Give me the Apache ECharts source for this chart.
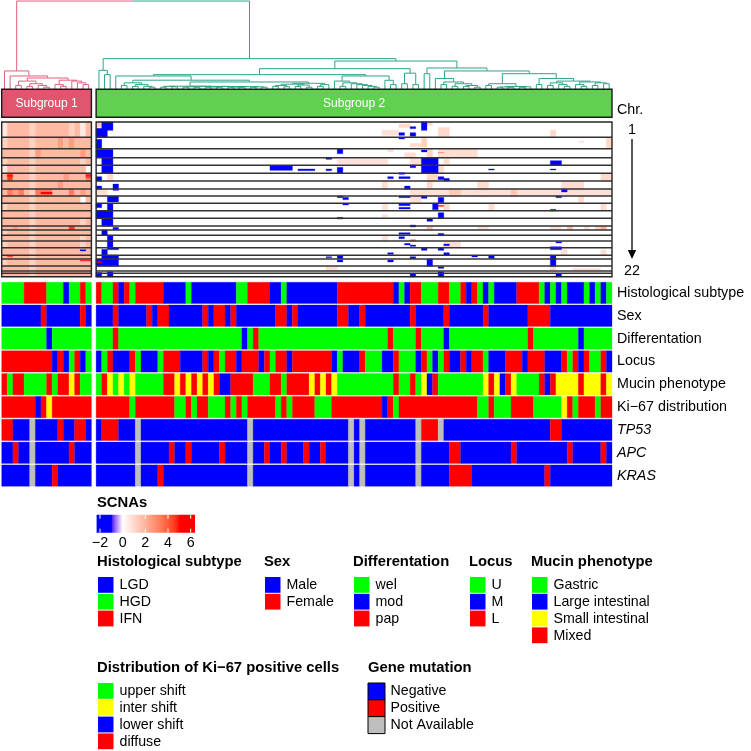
<!DOCTYPE html>
<html>
<head>
<meta charset="utf-8">
<script src="https://cdn.jsdelivr.net/npm/echarts@6.0.0/dist/echarts.min.js"></script>
<style>
html,body{margin:0;padding:0;background:#ffffff;}
#chart{width:751px;height:751px;}
</style>
</head>
<body>
<div id="chart"></div>
<script>
// ================= DATA =================
const subgroupNames = ['Subgroup 1', 'Subgroup 2'];
const subgroupSizes = [16, 92];
const subgroupColors = ['#e0566f', '#5fd14f'];
const branchColors = ['#e2607e', '#2ca488'];

// dendrogram (leaf = sample index, number after ")" = merge height, root = 100)
const treeSG1 = "(0,(1,(((2,3)4,((4,5)3,(6,(7,8)2)4)6)9,((9,(10,11)3)5,(12,(13,(14,15)5)7)9)10)12.5)14.8)20.5";
const treeL = "(16,(17,18)16.3)21.2";
const treeA = "((20,21)4,((22,23)3,(24,(25,26)2)3)5)7";
const treeB1 = "(((27,28)2,(29,30)2.5)3,(((31,32)2,(33,34)2)2.5,(((35,36)2,(37,38)2)2.3,(((39,40)2,(41,42)2)2.2,((43,44)2,(45,46)2)2.4)2.6)2.8)3)3.2";
const treeB2 = "((((47,48)3,(49,50)2.5)4,((51,52)3,(53,54)2)4.5)5.5,((55,56)3,57)5)6.5";
const treeN735 = "(58,((59,60)3,(61,(62,(63,(64,(65,66)2)3)4)5)6)7)9";
const treeN880 = "(67,(68,69)5)9.9";
const treeR1b = "((70,71)6,(72,73)5)18";
const treeR2a = "(74,75)17.4";
const treeR2bL = "(76,((77,78)5,((79,80)3,((81,82)3,(83,84)2)4)6)8)12";
const treeR2bR1 = "((85,86)4,(((87,88)2,(89,90)2)2.3,((91,92)2,93)2.5)2.8)6";
const treeR2bR2 = "((94,95)5,(((96,97)4,(98,(99,100)3)5)7,((101,(102,103)3)5,((104,105)4,(106,107)6)7)8)9)12";

const chromosomes = ['1','2','3','4','5','6','7','8','9','10','11','12','13','14','15','16','17','18','19','20','21','22'];
const chromosomeBins = [46,34,27,23,24,23,24,21,22,22,23,23,12,16,17,20,23,11,21,15,7,10];

// subgroup 1 copy-number level per chromosome (one character per sample)
const subgroup1Scna = [
  "1333323333332313","2333323333434333","3333324333333343","2333323333333323",
  "1333323333333330","3633323333343335","3333323333433333","3545325553335343",
  "3333323333333303","2333323333333333","3333323333333333","3333323333333323",
  "3343323333336333","2333323333333333","3333323333333323","2333323333333323",
  "3333323333333333","3433323333333333","2333323333333333","3333323333333333",
  "3333323333333333","3333323333333333"
];
const scnaCodeValues = {'0':0,'1':0.6,'2':1.2,'3':1.8,'4':2.5,'5':3.3,'6':4.5,'b':-2};
// focal segments in subgroup 1: [firstSample, lastSample, binFrom, binTo, value]
const subgroup1Spots = [
  [14,14,383,387,-2],[1,1,160,163,5],[15,15,158,161,5],[15,15,164,166,5],
  [12,12,316,322,4.5],[14,15,415,417,5],[1,1,400,403,5],[7,8,210,216,5]
];
// segments in subgroup 2 (sample index within subgroup 2)
const subgroup2Scna = [
  [0,0,0,14,1.2],[1,2,0,24,-2],[0,1,19,44,-2],[0,0,52,79,-2],[0,2,82,104,-2],[1,2,107,129,-2],
  [1,2,130,152,-2],[0,0,164,176,-2],[2,2,156,174,1.0],[0,0,192,201,-2],[3,3,186,204,-2],
  [0,1,202,219,0.8],[2,3,222,239,-2],[0,0,244,256,-2],[2,2,244,264,-2],[0,2,266,289,-2],
  [1,2,289,312,-2],[3,3,316,322,-2],[1,1,324,339,-2],[2,2,340,357,-2],[2,2,357,377,-2],
  [2,3,377,382,-2],[1,1,382,400,-2],[1,3,400,411,-2],[0,3,411,432,-2],[0,0,418,421,5],
  [0,0,451,464,-2],[2,2,449,464,-2],
  [54,55,6,16,1.0],[56,56,14,19,-2],[58,58,0,24,-2],[59,59,2,9,1.0],[54,54,32,39,-2],
  [56,56,32,42,-2],[51,53,24,39,0.8],[61,62,16,44,1.0],[58,58,46,74,1.2],[54,54,46,50,-2],
  [56,57,64,74,0.9],[43,43,80,94,-2],[52,52,82,89,0.8],[58,58,84,89,-2],[59,59,80,104,1.1],
  [61,67,82,104,0.9],[61,61,91,92,3],[55,56,92,104,0.9],[41,41,107,111,-2],[43,51,112,124,0.8],
  [58,60,107,129,-2],[62,62,112,124,1.0],[56,57,107,129,0.8],[31,34,132,144,-2],[36,38,141,145,-2],
  [41,41,141,145,-2],[43,43,136,152,-2],[58,60,132,152,-2],[56,56,129,136,-2],[59,61,129,154,1.0],
  [54,54,152,156,-2],[52,52,164,169,-2],[54,55,164,169,-2],[59,60,154,177,1.0],[61,61,164,172,-2],
  [62,62,169,176,-2],[51,51,177,201,0.8],[55,55,192,201,-2],[59,59,177,201,1.0],[56,69,201,222,0.8],
  [63,64,201,222,1.4],[43,43,222,226,-2],[44,44,226,232,-2],[54,55,222,226,-2],[58,58,222,228,-2],
  [61,61,226,241,-2],[56,57,222,244,0.8],[44,44,244,248,-2],[51,51,244,264,0.8],[54,55,246,250,-2],
  [54,55,256,260,-2],[60,60,244,262,-2],[61,61,250,252,5],[62,62,244,264,1.0],[61,61,272,289,-2],
  [51,51,278,284,0.8],[43,43,286,290,-2],[59,59,289,297,-2],[56,56,309,314,-2],[59,59,314,324,1.6],
  [54,55,332,336,-2],[61,61,334,340,-2],[54,54,344,349,-2],[56,56,353,355,4],[51,51,340,357,0.8],
  [55,55,364,368,-2],[56,56,369,372,-2],[62,64,359,374,0.9],[62,62,366,370,-2],[58,58,377,384,-2],
  [61,61,377,384,-2],[62,62,392,399,-2],[41,41,404,406,-2],[43,43,400,409,-2],[52,52,392,396,-2],
  [56,56,404,409,-2],[67,67,400,404,-2],[43,43,414,419,-2],[52,52,414,419,-2],[59,59,411,432,-2],
  [61,61,434,438,-2],[41,42,434,444,0.8],[56,56,454,464,-2],[61,61,449,464,-2],
  [81,81,24,44,1.0],[86,86,58,61,0.8],[91,91,46,79,1.0],[81,82,116,128,-2],[70,70,141,143,-2],
  [81,81,141,143,-2],[90,91,154,177,1.0],[68,69,177,201,0.9],[83,86,177,201,0.9],[68,91,201,222,0.8],
  [74,74,201,222,1.5],[83,83,202,209,-2],[82,82,222,226,-2],[86,86,222,240,0.9],[70,70,244,264,0.9],
  [90,90,244,264,0.9],[81,81,262,266,-2],[68,69,312,324,0.8],[81,82,312,324,0.8],[84,84,312,324,1.6],
  [87,87,312,324,0.8],[89,89,312,324,1.2],[90,90,312,324,2.0],[82,82,359,362,-2],[81,82,374,382,-2],
  [83,83,382,400,0.9],[90,90,384,400,0.9],[70,70,400,408,-2],[81,81,400,432,-2],[81,81,434,447,0.9],
  [85,89,439,444,0.8],[82,82,454,464,-2]
];

const scnaTicks = [-2, 0, 2, 4, 6];
const scnaLegendRange = [-2.3, 6.38];
const scnaColorStops = [[-2,'#0000ff'],[-1,'#0000ff'],[0,'#ffffff'],[5,'#ff0000'],[6,'#ff0000']];

const trackNames = ['Histological subtype','Sex','Differentation','Locus','Mucin phenotype','Ki\u221267 distribution','TP53','APC','KRAS'];
const italicTracks = ['TP53','APC','KRAS'];
// run-length codes per track: [subgroup 1, subgroup 2]
const histologicalRuns = ["G4 R4 G3 B1 G2 R1 G1", "R1 G2 R1 B1 R1 G1 R5 B4 G1 B8 G2 R4 B2 G1 B9 R10 B1 G1 B1 R2 G3 R2 G2 R1 B1 R1 G1 B1 G1 B4 R4 G1 B1 G1 B1 G1 B3 G1 B1 G1 B1 G1"];
const sexRuns = ["B7 R1 B6 R1 B1", "B3 R1 B5 R1 B1 R2 B6 R1 B1 R2 B1 R1 B7 R2 B1 R1 B7 R2 B2 R1 B8 R1 B5 R1 B6 R1 B7 R4 B11"];
const differentationRuns = ["G8 B1 G7", "G3 R1 G22 B1 G1 R1 G23 R1 G4 R1 G4 B1 G14 R1 G8 B1 G5"];
const locusRuns = ["R9 B1 R1 B1 G1 R1 B1 G1", "B1 G1 R1 B3 R1 G1 B3 G1 R3 B4 R1 B1 R1 G1 R2 B1 R3 B1 R1 G1 R2 B1 R7 B1 G1 B3 R1 G3 B2 R1 G3 B1 R1 G1 B1 G1 R1 B2 R1 B1 R2 G1 B3 R3 B1 R3 B3 R1 G1 R1 B1 R1 G2 R1 B1"];
const mucinRuns = ["R1 G1 R2 G4 R1 G1 R2 Y1 R1 G2", "G1 R1 Y1 G1 Y1 G1 Y1 G5 R2 Y1 R1 Y1 R1 Y1 R1 Y1 R1 B2 R4 G3 R2 G1 R4 Y1 R1 Y1 R1 Y1 G10 R1 G2 R1 G1 Y1 B1 R1 G8 Y1 R1 Y1 B1 R1 Y1 G4 R1 B1 R1 Y4 R1 Y3 R1 Y1"];
const ki67Runs = ["R6 B1 R1 Y1 R7", "R6 G1 R7 G2 R1 G1 R2 G3 R1 G1 R1 G1 R5 G1 R1 G1 R4 G3 R9 B1 R1 G1 R14 G2 R1 G3 R4 G5 Y1 R1 G1 R3 G1 R2"];
const tp53Runs = ["R2 B3 N1 B4 R1 B2 R2 B1", "B1 R3 B3 N1 B19 N1 B17 N1 B1 N1 B9 N1 R3 N1 B19 R2 B9"];
const apcRuns = ["B2 R1 B2 N1 B6 R1 B3", "B7 N1 B5 R1 B2 R1 B5 R1 B4 N1 B2 R1 B2 R1 B3 R1 B2 R1 B4 N1 B1 N1 B9 N1 B5 R2 B9 R1 B9 R1 B5 R1 B1"];
const krasRuns = ["B5 N1 B3 R1 B6", "B7 N1 B3 R1 B15 N1 B17 N1 B1 N1 B9 N1 B5 R4 B13 R1 B11"];
const trackRuns = [histologicalRuns, sexRuns, differentationRuns, locusRuns, mucinRuns, ki67Runs, tp53Runs, apcRuns, krasRuns];
const codeColors = {B:'#0000ff', G:'#00ff00', R:'#ff0000', Y:'#ffff00', N:'#bebebe'};

const legendTitles = ['Histological subtype','Sex','Differentation','Locus','Mucin phenotype','Distribution of Ki\u221267 positive cells','Gene mutation'];
const legendLabels = [
  ['LGD','HGD','IFN'], ['Male','Female'], ['wel','mod','pap'], ['U','M','L'],
  ['Gastric','Large intestinal','Small intestinal','Mixed'],
  ['upper shift','inter shift','lower shift','diffuse'],
  ['Negative','Positive','Not Available']
];
const legendColors = [
  ['#0000ff','#00ff00','#ff0000'], ['#0000ff','#ff0000'], ['#00ff00','#0000ff','#ff0000'], ['#00ff00','#0000ff','#ff0000'],
  ['#00ff00','#0000ff','#ffff00','#ff0000'], ['#00ff00','#ffff00','#0000ff','#ff0000'], ['#0000ff','#ff0000','#bebebe']
];

// ================= LAYOUT =================
const FONT = 'Liberation Sans, Arial, Helvetica, sans-serif';
const GAP = 0.84;
const NS = subgroupSizes[0] + subgroupSizes[1];
const XMAX = NS + GAP;
const GRID_LEFT = 1.7, GRID_W = 610.3;
const legendAnchors = [[97,562],[264,562],[353,562],[469,562],[531,562],[97,668],[368,668]];
const legendBordered = [false,false,false,false,false,false,true];

function xLeft(i){ return i + (i >= subgroupSizes[0] ? GAP : 0); }
function subgroupOf(i){ return i < subgroupSizes[0] ? 0 : 1; }

// ---- colour (Lab interpolation) ----
function hex2rgb(h){ h=h.replace('#',''); return [parseInt(h.substr(0,2),16),parseInt(h.substr(2,2),16),parseInt(h.substr(4,2),16)]; }
function s2l(c){ c/=255; return c<=0.04045? c/12.92 : Math.pow((c+0.055)/1.055,2.4); }
function l2s(c){ c = c<=0.0031308? 12.92*c : 1.055*Math.pow(c,1/2.4)-0.055; return Math.round(Math.max(0,Math.min(1,c))*255); }
function rgb2lab(rgb){
  const R=s2l(rgb[0]),G=s2l(rgb[1]),B=s2l(rgb[2]);
  const X=(0.4124*R+0.3576*G+0.1805*B)/0.95047, Y=(0.2126*R+0.7152*G+0.0722*B), Z=(0.0193*R+0.1192*G+0.9505*B)/1.08883;
  const f=t=> t>0.008856? Math.cbrt(t) : 7.787*t+16/116;
  const fx=f(X),fy=f(Y),fz=f(Z);
  return [116*fy-16, 500*(fx-fy), 200*(fy-fz)];
}
function lab2rgb(lab){
  const fy=(lab[0]+16)/116, fx=fy+lab[1]/500, fz=fy-lab[2]/200;
  const fi=t=> t>0.206893? t*t*t : (t-16/116)/7.787;
  const X=fi(fx)*0.95047, Y=fi(fy), Z=fi(fz)*1.08883;
  const R= 3.2406*X-1.5372*Y-0.4986*Z, G=-0.9689*X+1.8758*Y+0.0415*Z, B=0.0557*X-0.2040*Y+1.0570*Z;
  return [l2s(R),l2s(G),l2s(B)];
}
const stopLabs = scnaColorStops.map(s=>[s[0], rgb2lab(hex2rgb(s[1]))]);
function scnaColor(v){
  if (v <= stopLabs[0][0]) v = stopLabs[0][0];
  if (v >= stopLabs[stopLabs.length-1][0]) v = stopLabs[stopLabs.length-1][0];
  for (let k=0;k<stopLabs.length-1;k++){
    const a=stopLabs[k], b=stopLabs[k+1];
    if (v>=a[0] && v<=b[0]){
      const t = b[0]===a[0]?0:(v-a[0])/(b[0]-a[0]);
      const lab=[0,1,2].map(j=>a[1][j]+(b[1][j]-a[1][j])*t);
      const c=lab2rgb(lab); return 'rgb('+c[0]+','+c[1]+','+c[2]+')';
    }
  }
  return '#fff';
}

// ---- dendrogram ----
function parseTree(str){
  const s=str.replace(/\s+/g,''); let i=0;
  function num(){ const j=i; while(i<s.length && /[0-9.]/.test(s[i])) i++; return parseFloat(s.slice(j,i)); }
  function node(){
    if (s[i]==='('){ i++; const a=node(); i++; const b=node(); i++; const h=num(); return {kids:[a,b], h:h}; }
    return {leaf:num(), h:0};
  }
  return node();
}
const treeN366 = "(" + treeA + ",(" + treeB1 + "," + treeB2 + ")8)10";
const treeR1a = "((19," + treeN366 + ")14.8,(" + treeN735 + "," + treeN880 + ")14.8)16.3";
const treeR1 = "(" + treeR1a + "," + treeR1b + ")23.1";
const treeR2 = "(" + treeR2a + ",(" + treeR2bL + ",(" + treeR2bR1 + "," + treeR2bR2 + ")17.4)20.5)23.9";
const treeSG2 = "(" + treeL + ",(" + treeR1 + "," + treeR2 + ")31.8)34.5";
const tree = parseTree("(" + treeSG1 + "," + treeSG2 + ")100");
const dendroData = [];
function layout(n){
  if (n.kids){ n.kids.forEach(layout); n.x=(n.kids[0].x+n.kids[1].x)/2; n.c = n.kids[0].c===n.kids[1].c ? n.kids[0].c : -1;
    n.kids.forEach(k=>dendroData.push([k.x, k.h, n.h, n.x, k.c]));
  } else { n.x = xLeft(n.leaf)+0.5; n.c = subgroupOf(n.leaf); }
}
layout(tree);

// ---- scna cells ----
const binStart = []; { let acc=0; chromosomeBins.forEach(b=>{ binStart.push(acc); acc+=b; }); }
const TOTAL_BINS = chromosomeBins.reduce((a,b)=>a+b,0);
const scnaData = [];
subgroup1Scna.forEach((row,c)=>{
  let s=0;
  while (s<row.length){
    let e=s; while(e+1<row.length && row[e+1]===row[s]) e++;
    const v=scnaCodeValues[row[s]];
    if (v!==0) scnaData.push([xLeft(s), xLeft(e)+1, binStart[c], binStart[c]+chromosomeBins[c], v]);
    s=e+1;
  }
});
const spots = subgroup1Spots.map(d=>[xLeft(d[0]), xLeft(d[1])+1, d[2], d[3], d[4]])
  .concat(subgroup2Scna.map(d=>{ const a=d[0]+subgroupSizes[0], b=d[1]+subgroupSizes[0]; return [xLeft(a), xLeft(b)+1, d[2], d[3]+1, d[4]]; }));
spots.sort((p,q)=>Math.abs(p[4])-Math.abs(q[4]));
spots.forEach(d=>scnaData.push(d));

const panels = [[xLeft(0), xLeft(subgroupSizes[0]-1)+1],[xLeft(subgroupSizes[0]), xLeft(NS-1)+1]];
const frameData = [];
panels.forEach(p=>{
  for (let c=1;c<chromosomeBins.length;c++) frameData.push([p[0], p[1], binStart[c], binStart[c], 0]);
  frameData.push([p[0], p[1], 0, TOTAL_BINS, 1]);
});

// ---- tracks ----
const trackData = [], trackColorList = [];
trackRuns.forEach((runs,t)=>{
  let offset=0;
  runs.forEach((str,g)=>{
    const codes=[];
    str.trim().split(/\s+/).forEach(tok=>{ const ch=tok[0], n=parseInt(tok.slice(1)); for(let k=0;k<n;k++) codes.push(ch); });
    let s=0;
    while (s<codes.length){
      let e=s; while(e+1<codes.length && codes[e+1]===codes[s]) e++;
      trackColorList.push(codeColors[codes[s]]);
      trackData.push([xLeft(offset+s), xLeft(offset+e)+1, t, trackColorList.length-1]);
      s=e+1;
    }
    offset += subgroupSizes[g];
  });
});

const subgroupData = [[xLeft(0), xLeft(subgroupSizes[0]-1)+1, 0],[xLeft(subgroupSizes[0]), xLeft(NS-1)+1, 1]];

// ---- graphic: legends and chromosome labels ----
const graphics = [];
graphics.push({type:'text', left:97, top:495, style:{text:'SCNAs', font:'bold 14.8px '+FONT, fill:'#000'}});
legendTitles.forEach((title,g)=>{
  const [x,y]=legendAnchors[g];
  graphics.push({type:'text', x:x, y:y, style:{text:title, font:'bold 14.8px '+FONT, fill:'#000', verticalAlign:'middle', align:'left'}});
  legendLabels[g].forEach((lab,k)=>{
    const top=y+15+k*16.8;
    const bordered=legendBordered[g];
    graphics.push({type:'rect', shape:{x:bordered?x:x+1, y:top, width:bordered?17:15.5, height:bordered?17:15.8},
      style:{fill:legendColors[g][k], stroke:bordered?'#000':null, lineWidth:bordered?1:0}});
    graphics.push({type:'text', x:x+22.5, y:top+8.3, style:{text:lab, font:'14.2px '+FONT, fill:'#000', verticalAlign:'middle', align:'left'}});
  });
});
graphics.push({type:'text', x:617, y:110, style:{text:'Chr.', font:'14.3px '+FONT, fill:'#000', verticalAlign:'middle'}});
graphics.push({type:'text', x:632, y:130, style:{text:'1', font:'14.3px '+FONT, fill:'#000', verticalAlign:'middle', align:'center'}});
graphics.push({type:'text', x:632, y:271, style:{text:'22', font:'14.3px '+FONT, fill:'#000', verticalAlign:'middle', align:'center'}});
graphics.push({type:'line', shape:{x1:632, y1:139, x2:632, y2:252}, style:{stroke:'#000', lineWidth:1.3}});
graphics.push({type:'polygon', shape:{points:[[627.8,250],[636.2,250],[632,259]]}, style:{fill:'#000'}});

// ================= CHART =================
const chart = echarts.init(document.getElementById('chart'), null, {renderer:'canvas'});
const hiddenX = (g)=>({type:'value', gridIndex:g, min:0, max:XMAX, show:false});
const gridBase = {left:GRID_LEFT, width:GRID_W, containLabel:false, outerBoundsMode:'none'};

const option = {
  animation:false,
  backgroundColor:'#ffffff',
  textStyle:{fontFamily:FONT},
  grid:[
    Object.assign({}, gridBase, {top:1, height:88}),
    Object.assign({}, gridBase, {top:89.3, height:28}),
    Object.assign({}, gridBase, {top:122, height:154.7}),
    Object.assign({}, gridBase, {top:281.5, height:205.5}),
    {left:100, width:90.7, top:514.7, height:18, containLabel:false, outerBoundsMode:'none'}
  ],
  xAxis:[
    hiddenX(0), hiddenX(1), hiddenX(2), hiddenX(3),
    {type:'value', gridIndex:4, min:-2, max:6, interval:2, axisLine:{show:false}, axisTick:{show:false}, splitLine:{show:false},
     axisLabel:{margin:3, fontSize:14.3, color:'#000', fontFamily:FONT, formatter:v=>String(v).replace('-', '\u2212')}}
  ],
  yAxis:[
    {type:'value', gridIndex:0, min:0, max:100, show:false},
    {type:'value', gridIndex:1, min:0, max:1, show:false},
    {type:'value', gridIndex:2, min:0, max:TOTAL_BINS, inverse:true, show:false},
    {type:'category', gridIndex:3, data:trackNames, inverse:true, position:'right',
     axisLine:{show:false}, axisTick:{show:false}, splitLine:{show:false},
     axisLabel:{margin:5, fontSize:14.3, color:'#000', fontFamily:FONT,
       formatter:v=> italicTracks.indexOf(v)>=0 ? '{it|'+v+'}' : v,
       rich:{it:{fontStyle:'italic', fontSize:14.3, color:'#000', fontFamily:FONT}}}},
    {type:'value', gridIndex:4, min:0, max:1, show:false}
  ],
  series:[
    {type:'custom', xAxisIndex:0, yAxisIndex:0, clip:false, data:dendroData,
     renderItem:(p,api)=>{
       const a=api.coord([api.value(0),api.value(1)]), b=api.coord([api.value(0),api.value(2)]), c=api.coord([api.value(3),api.value(2)]);
       return {type:'polyline', shape:{points:[a,b,c]}, style:{stroke:branchColors[api.value(4)], lineWidth:1, fill:null}};
     }},
    {type:'custom', xAxisIndex:1, yAxisIndex:1, clip:false, data:subgroupData,
     renderItem:(p,api)=>{
       const p0=api.coord([api.value(0),1]), p1=api.coord([api.value(1),0]); const k=api.value(2);
       return {type:'group', children:[
         {type:'rect', shape:{x:p0[0], y:p0[1], width:p1[0]-p0[0], height:p1[1]-p0[1]}, style:{fill:subgroupColors[k], stroke:'#1a1a1a', lineWidth:1.4}},
         {type:'text', style:{text:subgroupNames[k], x:(p0[0]+p1[0])/2, y:(p0[1]+p1[1])/2, fill:'#ffffff', font:'12px '+FONT, align:'center', verticalAlign:'middle'}}
       ]};
     }},
    {type:'custom', xAxisIndex:2, yAxisIndex:2, clip:false, data:scnaData,
     renderItem:(p,api)=>{
       const p0=api.coord([api.value(0),api.value(2)]), p1=api.coord([api.value(1),api.value(3)]);
       const col=scnaColor(api.value(4));
       return {type:'rect', shape:{x:p0[0], y:p0[1], width:p1[0]-p0[0], height:p1[1]-p0[1]}, style:{fill:col, stroke:col, lineWidth:0.3}};
     }},
    {type:'custom', xAxisIndex:2, yAxisIndex:2, clip:false, data:frameData,
     renderItem:(p,api)=>{
       const p0=api.coord([api.value(0),api.value(2)]), p1=api.coord([api.value(1),api.value(3)]);
       if (api.value(4)===0) return {type:'line', shape:{x1:p0[0], y1:p0[1], x2:p1[0], y2:p0[1]}, style:{stroke:'#333333', lineWidth:1.5}};
       return {type:'rect', shape:{x:p0[0], y:p0[1], width:p1[0]-p0[0], height:p1[1]-p0[1]}, style:{fill:null, stroke:'#262626', lineWidth:1.4}};
     }},
    {type:'custom', xAxisIndex:3, yAxisIndex:3, clip:false, data:trackData,
     renderItem:(p,api)=>{
       const c0=api.coord([api.value(0),api.value(2)]), c1=api.coord([api.value(1),api.value(2)]);
       const bh=api.size([0,1])[1];
       const col=trackColorList[api.value(3)];
       return {type:'rect', shape:{x:c0[0], y:c0[1]-bh/2+0.75, width:c1[0]-c0[0], height:bh-1.5}, style:{fill:col, stroke:col, lineWidth:0.3}};
     }},
    {type:'custom', xAxisIndex:4, yAxisIndex:4, clip:false, data:[[scnaLegendRange[0], scnaLegendRange[1]]],
     renderItem:(p,api)=>{
       const a=api.coord([api.value(0),1]), b=api.coord([api.value(1),0]);
       const stops=[]; const n=80;
       for (let k=0;k<=n;k++){ const v=scnaLegendRange[0]+(scnaLegendRange[1]-scnaLegendRange[0])*k/n; stops.push({offset:k/n, color:scnaColor(v)}); }
       const kids=[{type:'rect', shape:{x:a[0], y:a[1], width:b[0]-a[0], height:b[1]-a[1]}, style:{fill:new echarts.graphic.LinearGradient(0,0,1,0,stops)}}];
       scnaTicks.forEach(t=>{
         const x=api.coord([t,0])[0];
         kids.push({type:'line', shape:{x1:x, y1:a[1], x2:x, y2:a[1]+4}, style:{stroke:'#ffffff', lineWidth:1}});
         kids.push({type:'line', shape:{x1:x, y1:b[1]-4, x2:x, y2:b[1]}, style:{stroke:'#ffffff', lineWidth:1}});
       });
       return {type:'group', children:kids};
     }}
  ],
  graphic: graphics
};
chart.setOption(option);
</script>
</body>
</html>
